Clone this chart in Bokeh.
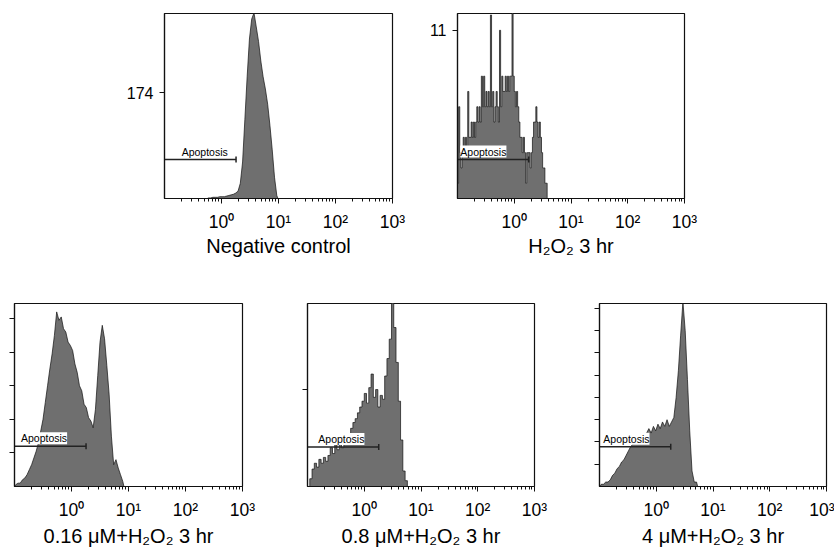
import math
from bokeh.plotting import figure
from bokeh.layouts import row, column
from bokeh.models import Range1d, FixedTicker, Label, CustomLabelingPolicy
from bokeh.embed import file_html
from bokeh.resources import INLINE

# ---------------- data ----------------
x_major = [1, 10, 100, 1000]
x_major_labels = ["10\u2070", "10\u00b9", "10\u00b2", "10\u00b3"]

titles = ["Negative control", "H\u2082O\u2082 3 hr",
          "0.16 \u03bcM+H\u2082O\u2082 3 hr", "0.8 \u03bcM+H\u2082O\u2082 3 hr",
          "4 \u03bcM+H\u2082O\u2082 3 hr"]

# histogram bins: start (log10), bin width (log10), counts
neg_lo, neg_step = -0.25, 0.04
neg_counts = [1, 1, 2, 2, 2, 3, 3, 3, 4, 5, 6, 7, 9, 12, 25, 60, 130, 200, 262, 295,
              305, 282, 258, 226, 200, 180, 155, 120, 80, 35, 5]

h2o2_lo, h2o2_step = -1.00, 0.02
h2o2_counts = [1, 6, 3, 2, 3, 4, 3, 4, 3, 7, 4, 4, 5, 4, 5, 4, 5, 6, 5, 6,
               5, 8, 6, 8, 6, 7, 6, 7, 6, 12, 6, 7, 5, 6, 7, 6, 5, 11, 6, 8,
               7, 7, 8, 7, 8, 7, 8, 8, 13, 8, 7, 6, 7, 6, 5, 4, 4, 3, 4, 3,
               1, 3, 3, 3, 2, 3, 4, 5, 5, 6, 5, 4, 5, 4, 3, 2, 2, 1, 1]

c016_lo, c016_step = -1.00, 0.04
c016_counts = [1, 2, 2, 4, 5, 7, 10, 13, 17, 21, 26, 33, 40, 50, 60, 70, 79, 90, 104, 99,
               101, 94, 92, 86, 84, 81, 73, 68, 60, 57, 49, 47, 41, 39, 35, 46, 66, 86, 96, 88,
               72, 55, 30, 13, 16, 11, 7, 3]

c08_lo, c08_step = -0.96, 0.04
c08_counts = [4, 9, 12, 10, 14, 12, 15, 13, 16, 20, 17, 23, 19, 24, 20, 26, 22, 27, 30, 33,
              35, 38, 41, 44, 48, 43, 51, 58, 46, 50, 41, 47, 45, 57, 66, 76, 96, 82, 64, 44,
              24, 8, 3]

c4_lo, c4_step = -0.99, 0.04
c4_counts = [1, 1, 2, 2, 3, 5, 6, 8, 9, 11, 12, 14, 16, 18, 19, 20, 21, 22, 23, 22,
             24, 26, 24, 27, 25, 28, 26, 29, 27, 30, 27, 29, 31, 40, 52, 68, 83, 70, 48, 25,
             7, 2, 2]

y_max = [304, 12.1, 109, 94.4, 82.2]
y_ticks = [[174], [11], [20, 40, 60, 80, 100], [50], [10, 20, 30, 40, 50, 60, 70, 80]]
y_tick_labels_shown = [True, True, False, False, False]
outline_style = ["smooth", "step", "smooth", "step", "smooth"]

gate_hi = 1.8
gate_y = [64, 2.55, 24, 20.4, 17.8]
gate_label_x = [0.20, 0.112, 0.13, 0.155, 0.117]

FONT = "Liberation Sans"
FILL = "#6f6f6f"


def hist_outline(lo, step, counts, style):
    n = len(counts)
    if style == "step":
        edges = [10 ** (lo + i * step) for i in range(n + 1)]
        xs, ys = [edges[0]], [0]
        for i, c in enumerate(counts):
            xs += [edges[i], edges[i + 1]]
            ys += [c, c]
        xs.append(edges[-1])
        ys.append(0)
    else:
        centers = [10 ** (lo + (i + 0.5) * step) for i in range(n)]
        xs = [10 ** lo] + centers + [10 ** (lo + n * step)]
        ys = [0] + list(counts) + [0]
    return xs, ys


def make_panel(idx, lo, step, counts, width, height, bl, br, bt, bb):
    p = figure(width=width, height=height, x_axis_type="log",
               output_backend="svg", toolbar_location=None,
               min_border_left=bl, min_border_right=br,
               min_border_top=bt, min_border_bottom=bb)
    p.x_range = Range1d(0.1, 1000)
    p.y_range = Range1d(0, y_max[idx])
    p.xgrid.visible = False
    p.ygrid.visible = False
    p.background_fill_color = "white"
    p.border_fill_color = "white"
    p.outline_line_color = "#111111"
    p.outline_line_width = 1.2

    xs, ys = hist_outline(lo, step, counts, outline_style[idx])
    p.patch(xs, ys, fill_color=FILL, line_color="#111111", line_width=0.7)

    # apoptosis gate
    p.segment(x0=[0.1], y0=[gate_y[idx]], x1=[gate_hi], y1=[gate_y[idx]],
              line_color="#222222", line_width=1.5)
    p.scatter([gate_hi], [gate_y[idx]], marker="dash", angle=math.pi / 2,
              size=6, line_color="#222222", line_width=1.5)
    p.add_layout(Label(x=gate_label_x[idx], y=gate_y[idx], y_offset=2,
                       text="Apoptosis", text_font=FONT, text_font_size="10.5px",
                       text_color="black", text_baseline="bottom",
                       background_fill_color="white"))

    xa = p.xaxis[0]
    xa.ticker = FixedTicker(ticks=x_major,
                            minor_ticks=[m * 10 ** d for d in (-1, 0, 1, 2) for m in range(2, 10)])
    xa.major_label_overrides = {t: l for t, l in zip(x_major, x_major_labels)}
    xa.major_tick_out = 5
    xa.major_tick_in = 0
    xa.minor_tick_out = 3
    xa.minor_tick_in = 0
    xa.axis_line_color = "#111111"
    xa.axis_line_width = 1.2
    xa.major_tick_line_color = "#111111"
    xa.minor_tick_line_color = "#111111"
    xa.major_label_text_font = FONT
    xa.major_label_text_font_size = "17.5px"
    xa.major_label_text_color = "black"
    xa.major_label_standoff = 8
    xa.axis_label = titles[idx]
    xa.axis_label_text_font = FONT
    xa.axis_label_text_font_size = "20px"
    xa.axis_label_text_font_style = "normal"
    xa.axis_label_text_color = "black"
    xa.axis_label_standoff = 0 if idx < 2 else 2

    ya = p.yaxis[0]
    ya.ticker = FixedTicker(ticks=y_ticks[idx])
    ya.major_tick_out = 5
    ya.major_tick_in = 0
    ya.minor_tick_out = 0
    ya.minor_tick_in = 0
    ya.axis_line_color = "#111111"
    ya.axis_line_width = 1.2
    ya.major_tick_line_color = "#111111"
    ya.major_label_text_font = FONT
    ya.major_label_text_color = "black"
    if y_tick_labels_shown[idx]:
        ya.major_label_text_font_size = "16px"
        ya.major_label_standoff = 6
    else:
        ya.major_label_text_font_size = "1px"
        ya.major_label_standoff = 0
        ya.major_label_policy = CustomLabelingPolicy(code="""
for (let i = 0; i < indices.size; i++) { indices.unset(i) }
return indices
""")
    return p


p1 = make_panel(0, neg_lo, neg_step, neg_counts, 422, 268, 164, 30, 13, 70)
p2 = make_panel(1, h2o2_lo, h2o2_step, h2o2_counts, 412, 268, 35, 150, 13, 70)
p3 = make_panel(2, c016_lo, c016_step, c016_counts, 272, 281, 14, 30, 35, 61)
p4 = make_panel(3, c08_lo, c08_step, c08_counts, 292, 281, 35, 30, 35, 61)
p5 = make_panel(4, c4_lo, c4_step, c4_counts, 270, 281, 35, 8, 35, 61)

layout = column(row(p1, p2), row(p3, p4, p5))

open("out.html", "w").write(file_html(layout, INLINE))
